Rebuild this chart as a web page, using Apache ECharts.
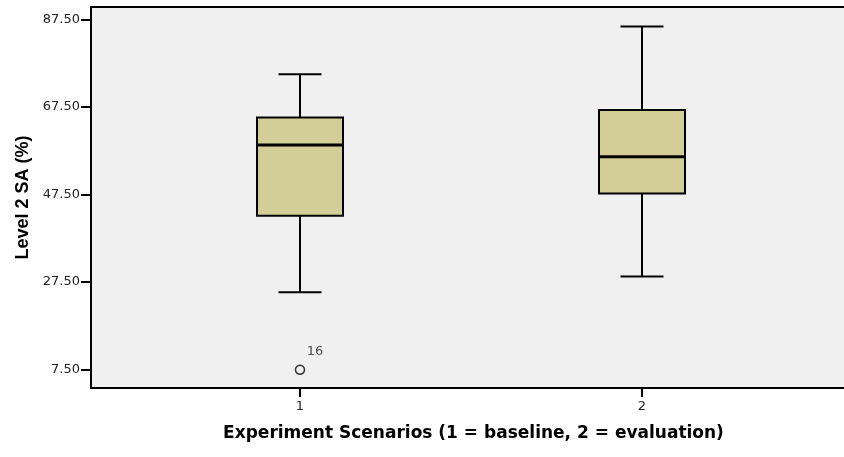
<!DOCTYPE html>
<html>
<head>
<meta charset="utf-8">
<script src="https://cdn.jsdelivr.net/npm/echarts@6/dist/echarts.min.js"></script>
<style>
html,body{margin:0;padding:0;background:#fff;}
#chart{width:844px;height:457px;}
</style>
</head>
<body>
<div id="chart"></div>
<script>
// Data
var scenarios = [1, 2];
var lowerWhisker = [25.1, 28.7];
var quartile1 = [42.6, 47.7];
var medians = [58.8, 56.1];
var quartile3 = [65.1, 66.8];
var upperWhisker = [75.0, 85.9];
var outlierX = [1];
var outlierY = [7.4];
var outlierLabels = ['16'];
var yTicks = [7.5, 27.5, 47.5, 67.5, 87.5];
var xTicks = [1, 2];

var boxData = scenarios.map(function (s, i) {
  return [s, lowerWhisker[i], quartile1[i], medians[i], quartile3[i], upperWhisker[i]];
});
var outlierData = outlierX.map(function (x, i) {
  return { value: [x, outlierY[i]], label: outlierLabels[i] };
});

var chart = echarts.init(document.getElementById('chart'), null, { renderer: 'canvas' });
var BOX_W = 86, CAP_W = 43;
var WIDE = 'DejaVu Sans, Verdana, sans-serif';
var X_MIN = 0.3889, X_MAX = 2.5907;
var frameLine = { show: true, lineStyle: { color: '#000', width: 2 } };

chart.setOption({
  animation: false,
  backgroundColor: '#ffffff',
  grid: {
    left: 91, top: 7, right: 0, bottom: 69,
    show: true, backgroundColor: '#f0f0f0',
    borderWidth: 0
  },
  xAxis: [{
    type: 'value',
    min: X_MIN, max: X_MAX,
    splitLine: { show: false },
    axisLine: frameLine,
    axisTick: { show: true, length: 9, lineStyle: { color: '#000', width: 2 }, customValues: xTicks },
    axisLabel: { customValues: xTicks, color: '#222', fontFamily: WIDE, fontSize: 13, margin: 12 },
    name: 'Experiment Scenarios (1 = baseline, 2 = evaluation)',
    nameLocation: 'middle', nameGap: 37,
    nameTextStyle: { color: '#000', fontWeight: 'bold', fontSize: 17, fontFamily: WIDE, padding: [0, 0, 0, 12] }
  }, {
    type: 'value', position: 'top',
    min: X_MIN, max: X_MAX,
    splitLine: { show: false },
    axisLine: frameLine,
    axisTick: { show: false },
    axisLabel: { show: false }
  }],
  yAxis: {
    type: 'value',
    min: 3.22, max: 90.36,
    splitLine: { show: false },
    axisLine: frameLine,
    axisTick: { show: true, length: 10, lineStyle: { color: '#000', width: 2 }, customValues: yTicks },
    axisLabel: {
      customValues: yTicks, color: '#222', fontSize: 13, margin: 11,
      fontFamily: WIDE,
      formatter: function (v) { return v.toFixed(2); }
    },
    name: 'Level 2 SA (%)',
    nameLocation: 'middle', nameGap: 58,
    nameTextStyle: { color: '#000', fontWeight: 'bold', fontSize: 18, fontFamily: 'Liberation Sans, Arial, sans-serif' }
  },
  series: [
    {
      type: 'custom',
      data: boxData,
      encode: { x: 0, y: [1, 2, 3, 4, 5] },
      renderItem: function (params, api) {
        var x = api.value(0);
        var lo = api.coord([x, api.value(1)]);
        var q1 = api.coord([x, api.value(2)]);
        var md = api.coord([x, api.value(3)]);
        var q3 = api.coord([x, api.value(4)]);
        var hi = api.coord([x, api.value(5)]);
        var cx = Math.round(lo[0]);
        var ls = { stroke: '#000', lineWidth: 2 };
        return {
          type: 'group',
          children: [
            { type: 'line', shape: { x1: cx, y1: hi[1], x2: cx, y2: q3[1] }, style: ls },
            { type: 'line', shape: { x1: cx, y1: q1[1], x2: cx, y2: lo[1] }, style: ls },
            { type: 'line', shape: { x1: cx - CAP_W / 2, y1: hi[1], x2: cx + CAP_W / 2, y2: hi[1] }, style: ls },
            { type: 'line', shape: { x1: cx - CAP_W / 2, y1: lo[1], x2: cx + CAP_W / 2, y2: lo[1] }, style: ls },
            { type: 'rect', shape: { x: cx - BOX_W / 2, y: q3[1], width: BOX_W, height: q1[1] - q3[1] },
              style: { fill: '#d3ce97', stroke: '#000', lineWidth: 2 } },
            { type: 'line', shape: { x1: cx - BOX_W / 2, y1: md[1], x2: cx + BOX_W / 2, y2: md[1] },
              style: { stroke: '#000', lineWidth: 3 } }
          ]
        };
      }
    },
    {
      type: 'scatter',
      data: outlierData,
      symbol: 'circle',
      symbolSize: 9,
      itemStyle: { color: '#f0f0f0', borderColor: '#000', borderWidth: 1.5 },
      label: {
        show: true, position: [12, -19],
        formatter: function (p) { return p.data.label; },
        color: '#222', fontSize: 13, fontFamily: WIDE
      }
    }
  ]
});
</script>
</body>
</html>
